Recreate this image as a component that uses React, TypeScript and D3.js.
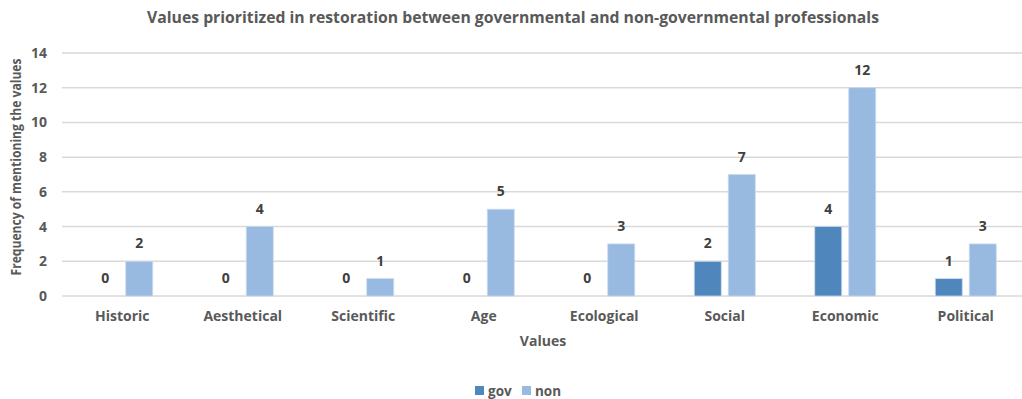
import React from "react";
import * as d3 from "d3";

const categories = ["Historic", "Aesthetical", "Scientific", "Age", "Ecological", "Social", "Economic", "Political"];
const seriesNames = ["gov", "non"];
const govValues = [0, 0, 0, 0, 0, 2, 4, 1];
const nonValues = [2, 4, 1, 5, 3, 7, 12, 3];
const yTicks = [0, 2, 4, 6, 8, 10, 12, 14];

const W = 1022;
const H = 399;
const FONT = "'Open Sans', Lato, sans-serif";
const TEXT = "#595959";
const LABEL = "#404040";
const colors: Record<string, string> = { gov: "#4F87BD", non: "#98B9E0" };

export default function App() {
  const x = d3.scaleBand<string>().domain(categories).range([62, 1026]).paddingInner(0).paddingOuter(0);
  const bw = x.bandwidth();
  const inner = d3
    .scaleBand<string>()
    .domain(seriesNames)
    .range([bw / 2 - 30.5, bw / 2 + 30.5])
    .paddingInner(0.206)
    .paddingOuter(0);
  const y = d3.scaleLinear().domain([0, 14]).range([296, 53]);

  const series = [
    { name: "gov", values: govValues },
    { name: "non", values: nonValues },
  ];

  return (
    <svg width={W} height={H} style={{ position: "absolute", left: 0, top: 0, display: "block", background: "#fff" }}>
      <text x={513} y={23} textAnchor="middle" fontFamily={FONT} fontWeight={700} fontSize={16.5} fill={TEXT} textLength={732} lengthAdjust="spacingAndGlyphs">
        Values prioritized in restoration between governmental and non-governmental professionals
      </text>

      {yTicks.map((t) => (
        <g key={t}>
          <line x1={62} x2={W} y1={y(t)} y2={y(t)} stroke="#D9D9D9" strokeWidth={1.5} />
          <text x={47} y={y(t) + 5} textAnchor="end" fontFamily={FONT} fontWeight={700} fontSize={14} fill={TEXT}>
            {t}
          </text>
        </g>
      ))}

      <text
        transform={`translate(21,${167}) rotate(-90)`}
        textAnchor="middle"
        fontFamily={FONT}
        fontWeight={700}
        fontSize={13.5}
        fill={TEXT}
        textLength={217}
        lengthAdjust="spacingAndGlyphs"
      >
        Frequency of mentioning the values
      </text>

      {series.map((s) =>
        categories.map((c, i) => {
          const v = s.values[i];
          const bx = (x(c) ?? 0) + (inner(s.name) ?? 0);
          const w = inner.bandwidth();
          return (
            <g key={s.name + c}>
              {v > 0 && (
                <rect x={bx} y={y(v)} width={w} height={y(0) - y(v)} fill={colors[s.name]} stroke="#C9DAEE" strokeWidth={0.8} />
              )}
              <text x={bx + w / 2} y={y(v) - 13} textAnchor="middle" fontFamily={FONT} fontWeight={700} fontSize={14} fill={LABEL}>
                {v}
              </text>
            </g>
          );
        })
      )}

      {categories.map((c) => (
        <text key={c} x={(x(c) ?? 0) + bw / 2} y={321} textAnchor="middle" fontFamily={FONT} fontWeight={700} fontSize={14} fill={TEXT}>
          {c}
        </text>
      ))}

      <text x={543} y={346} textAnchor="middle" fontFamily={FONT} fontWeight={700} fontSize={14} fill={TEXT}>
        Values
      </text>

      {seriesNames.map((n, i) => {
        const lx = 475 + i * 47;
        return (
          <g key={n}>
            <rect x={lx} y={386} width={9} height={9} fill={colors[n]} />
            <text x={lx + 13} y={395.5} fontFamily={FONT} fontWeight={700} fontSize={13.5} fill={TEXT}>
              {n}
            </text>
          </g>
        );
      })}
    </svg>
  );
}
